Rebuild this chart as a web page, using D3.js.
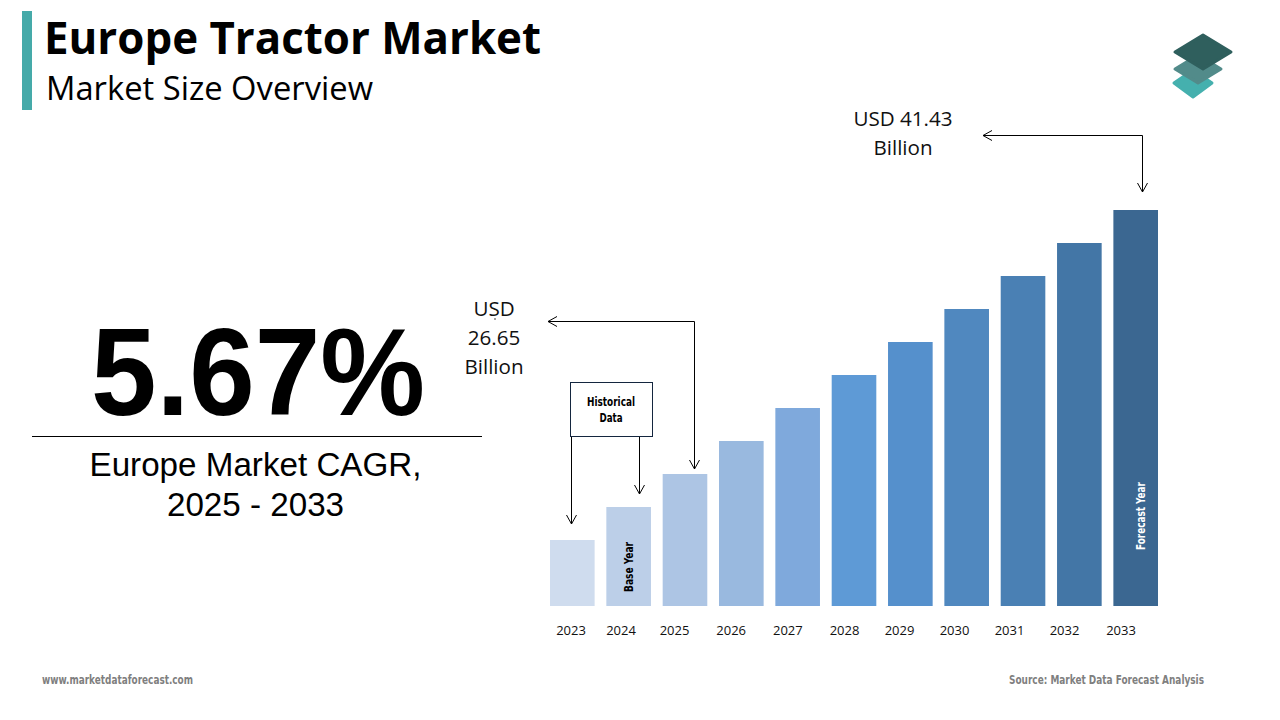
<!DOCTYPE html>
<html>
<head>
<meta charset="utf-8">
<script src="https://cdn.jsdelivr.net/npm/d3@7"></script>
<style>
  html, body { margin: 0; padding: 0; background: #fff; }
  svg { display: block; }
  .narrow { font-family: "Liberation Sans Narrow", "DejaVu Sans Condensed", "Liberation Sans", sans-serif; font-weight: bold; }
  .humanist { font-family: "Open Sans", "Noto Sans", sans-serif; }
  .arial { font-family: "Liberation Sans", Arial, sans-serif; }
</style>
</head>
<body>
<div id="chart"></div>
<script>
// bar data, the heights are only relative in the picture (one unit = one step)
let years = [2023, 2024, 2025, 2026, 2027, 2028, 2029, 2030, 2031, 2032, 2033];
let barValues = [2, 3, 4, 5, 6, 7, 8, 9, 10, 11, 12];
let barColors = ["#cfdcee", "#bccfe8", "#adc5e4", "#99b9df", "#7fa9dc", "#5e9ad6",
                 "#5590cc", "#5088bf", "#4a80b4", "#4376a6", "#3b6791"];

let titleText = "Europe Tractor Market";
let subtitleText = "Market Size Overview";
let cagrText = "5.67%";
let cagrLabel = ["Europe Market CAGR,", "2025 - 2033"];
let startLabel = ["USD", "26.65", "Billion"];
let endLabel = ["USD 41.43", "Billion"];
let boxLabel = ["Historical", "Data"];

let svg = d3.select("#chart").append("svg")
  .attr("width", 1280)
  .attr("height", 720);

let x = d3.scaleBand().domain(years).range([550, 1158]).paddingInner(0.208);
let y = d3.scaleLinear().domain([0, 12]).range([606, 210]);

// year labels do not sit under the bar centres in the original, so they get their own scale
let tickX = d3.scaleLinear()
  .domain([2023, 2024, 2025, 2028, 2030, 2032, 2033])
  .range([570.5, 620.5, 674, 844, 954, 1064, 1120.5]);

////////////////////////////////////////////////////////////////////////
// Header

svg.append("rect")
  .attr("x", 22).attr("y", 11)
  .attr("width", 10).attr("height", 99)
  .attr("fill", "#45aaa9");

svg.append("text")
  .attr("class", "humanist")
  .attr("x", 44).attr("y", 54)
  .attr("font-size", 44).attr("font-weight", 700)
  .attr("textLength", 497).attr("lengthAdjust", "spacingAndGlyphs")
  .attr("fill", "#000")
  .text(titleText);

svg.append("text")
  .attr("class", "humanist")
  .attr("x", 46).attr("y", 100)
  .attr("font-size", 33)
  .attr("textLength", 327).attr("lengthAdjust", "spacingAndGlyphs")
  .attr("fill", "#000")
  .text(subtitleText);

// logo, three stacked diamonds drawn back to front
let logoBottom = [[1193, 70], [1212, 83], [1193, 97], [1174, 83]];
let logoMiddle = [[1198, 55], [1221, 69], [1198, 83], [1175, 69]];
let logoTop = [[1203, 35], [1231, 52], [1203, 69], [1175, 52]];
let logoColors = ["#45b0ae", "#528b8a", "#2f5f5d"];

[logoBottom, logoMiddle, logoTop].forEach(function(pts, i) {
  svg.append("path")
    .attr("d", d3.line()(pts) + "Z")
    .attr("fill", logoColors[i])
    .attr("stroke", logoColors[i])
    .attr("stroke-width", 3)
    .attr("stroke-linejoin", "round");
});

////////////////////////////////////////////////////////////////////////
// Left side CAGR block

svg.append("text")
  .attr("class", "arial")
  .attr("x", 91).attr("y", 415)
  .attr("font-size", 124).attr("font-weight", 700)
  .attr("textLength", 334).attr("lengthAdjust", "spacingAndGlyphs")
  .attr("fill", "#000")
  .text(cagrText);

svg.append("line")
  .attr("x1", 32).attr("x2", 482)
  .attr("y1", 436.5).attr("y2", 436.5)
  .attr("stroke", "#000");

svg.selectAll(".cagr-label")
  .data(cagrLabel)
  .enter().append("text")
  .attr("class", "cagr-label arial")
  .attr("x", 255.5)
  .attr("y", (d, i) => 476 + i * 40)
  .attr("text-anchor", "middle")
  .attr("font-size", 33.2)
  .attr("fill", "#000")
  .text(d => d);

////////////////////////////////////////////////////////////////////////
// Bars

svg.selectAll(".bar")
  .data(years)
  .enter().append("rect")
  .attr("class", "bar")
  .attr("x", d => x(d))
  .attr("y", (d, i) => y(barValues[i]))
  .attr("width", x.bandwidth())
  .attr("height", (d, i) => y(0) - y(barValues[i]))
  .attr("fill", (d, i) => barColors[i]);

let axis = svg.append("g")
  .attr("transform", "translate(0,620)")
  .call(d3.axisBottom(tickX).tickValues(years).tickFormat(d3.format("d")).tickSize(0).tickPadding(0));
axis.select(".domain").remove();
axis.selectAll("text")
  .attr("class", "humanist")
  .attr("dy", null)
  .attr("y", 15)
  .attr("font-size", 13)
  .attr("fill", "#111");

function verticalLabel(year, text, color, offset, centerY, len) {
  svg.append("text")
    .attr("class", "narrow")
    .attr("transform", "translate(" + (x(year) + x.bandwidth() / 2 + offset) + "," + centerY + ") rotate(-90)")
    .attr("text-anchor", "middle")
    .attr("font-size", 12)
    .attr("textLength", len).attr("lengthAdjust", "spacingAndGlyphs")
    .attr("fill", color)
    .text(text);
}
verticalLabel(2024, "Base Year", "#000", 4, 567, 50);
verticalLabel(2033, "Forecast Year", "#fff", 9, 516, 68);

////////////////////////////////////////////////////////////////////////
// Annotations

function arrowHead(tipX, tipY, dir) {
  // open V head, dir is "down" or "left"
  let s = 9, w = 5;
  if (dir === "down") return `M ${tipX - w} ${tipY - s} L ${tipX} ${tipY} L ${tipX + w} ${tipY - s}`;
  return `M ${tipX + s} ${tipY - w} L ${tipX} ${tipY} L ${tipX + s} ${tipY + w}`;
}

function arrow(d, color) {
  svg.append("path")
    .attr("d", d)
    .attr("fill", "none")
    .attr("stroke", color)
    .attr("stroke-width", 1);
}

arrow("M 983 135.5 H 1142.5 V 192", "#000");
arrow(arrowHead(983, 135.5, "left"), "#000");
arrow(arrowHead(1142.5, 192, "down"), "#000");

arrow("M 548 321.5 H 694.5 V 469", "#000");
arrow(arrowHead(548, 321.5, "left"), "#000");
arrow(arrowHead(694.5, 469, "down"), "#000");

arrow("M 571.5 436 V 524", "#000");
arrow(arrowHead(571.5, 524, "down"), "#000");
arrow("M 639.5 436 V 494", "#000");
arrow(arrowHead(639.5, 494, "down"), "#000");

svg.append("rect")
  .attr("x", 570.5).attr("y", 382.5)
  .attr("width", 82).attr("height", 54)
  .attr("fill", "#fff")
  .attr("stroke", "#14263f");

svg.selectAll(".hist-label")
  .data(boxLabel)
  .enter().append("text")
  .attr("class", "hist-label narrow")
  .attr("x", 611)
  .attr("y", (d, i) => 406 + i * 16)
  .attr("text-anchor", "middle")
  .attr("font-size", 12)
  .attr("textLength", d => d === "Data" ? 23 : 48)
  .attr("lengthAdjust", "spacingAndGlyphs")
  .attr("fill", "#000")
  .text(d => d);

svg.selectAll(".start-label")
  .data(startLabel)
  .enter().append("text")
  .attr("class", "start-label humanist")
  .attr("x", 494)
  .attr("y", (d, i) => 315.5 + i * 29)
  .attr("text-anchor", "middle")
  .attr("font-size", 20.6)
  .attr("fill", "#111")
  .text(d => d);

// small stray dot under the USD label in the original
svg.append("rect")
  .attr("x", 494.5).attr("y", 318)
  .attr("width", 1).attr("height", 2)
  .attr("fill", "#444");

svg.selectAll(".end-label")
  .data(endLabel)
  .enter().append("text")
  .attr("class", "end-label humanist")
  .attr("x", 903)
  .attr("y", (d, i) => 125.5 + i * 29)
  .attr("text-anchor", "middle")
  .attr("font-size", 20.6)
  .attr("fill", "#111")
  .text(d => d);

////////////////////////////////////////////////////////////////////////
// Footer

svg.append("text")
  .attr("class", "narrow")
  .attr("x", 42).attr("y", 684)
  .attr("font-size", 12)
  .attr("textLength", 151).attr("lengthAdjust", "spacingAndGlyphs")
  .attr("fill", "#7f7f7f")
  .text("www.marketdataforecast.com");

svg.append("text")
  .attr("class", "narrow")
  .attr("x", 1009).attr("y", 684)
  .attr("font-size", 12)
  .attr("textLength", 195).attr("lengthAdjust", "spacingAndGlyphs")
  .attr("fill", "#7f7f7f")
  .text("Source: Market Data Forecast Analysis");
</script>
</body>
</html>
